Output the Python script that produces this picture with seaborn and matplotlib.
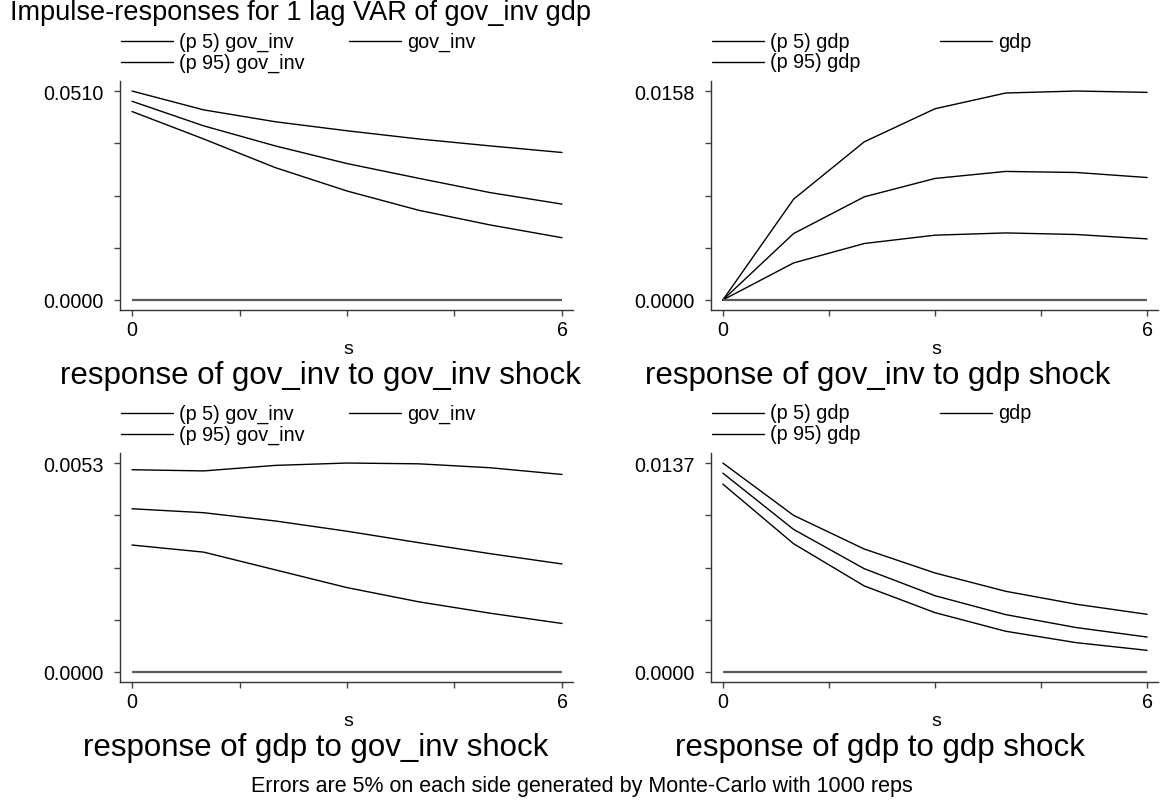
import numpy as np
import pandas as pd
import matplotlib
matplotlib.use("Agg")
import matplotlib.pyplot as plt
import seaborn as sns
from matplotlib.lines import Line2D

# Forecast steps
steps = [0, 1, 2, 3, 4, 5, 6]

# response of gov_inv to gov_inv shock
gi_gi_p5 = [0.0460, 0.0393, 0.0323, 0.0266, 0.0219, 0.0183, 0.0152]
gi_gi_mid = [0.0485, 0.0425, 0.0376, 0.0333, 0.0297, 0.0262, 0.0234]
gi_gi_p95 = [0.0510, 0.0464, 0.0435, 0.0413, 0.0393, 0.0376, 0.0360]

# response of gov_inv to gdp shock
gi_gdp_p5 = [0.0, 0.00280, 0.00427, 0.00490, 0.00507, 0.00495, 0.00462]
gi_gdp_mid = [0.0, 0.00502, 0.00780, 0.00919, 0.00972, 0.00964, 0.00926]
gi_gdp_p95 = [0.0, 0.00762, 0.01196, 0.01446, 0.01565, 0.01580, 0.01570]

# response of gdp to gov_inv shock
gdp_gi_p5 = [0.00322, 0.00304, 0.00259, 0.00214, 0.00178, 0.00149, 0.00123]
gdp_gi_mid = [0.00414, 0.00404, 0.00383, 0.00357, 0.00328, 0.00300, 0.00274]
gdp_gi_p95 = [0.00513, 0.00510, 0.00524, 0.00530, 0.00528, 0.00518, 0.00501]

# response of gdp to gdp shock
gdp_gdp_p5 = [0.01232, 0.00841, 0.00564, 0.00389, 0.00267, 0.00192, 0.00142]
gdp_gdp_mid = [0.01304, 0.00935, 0.00677, 0.00500, 0.00376, 0.00291, 0.00229]
gdp_gdp_p95 = [0.01370, 0.01027, 0.00806, 0.00649, 0.00529, 0.00444, 0.00378]

panels = [
    ("response of gov_inv to gov_inv shock", "gov_inv", gi_gi_p5, gi_gi_mid, gi_gi_p95, 0.0510),
    ("response of gov_inv to gdp shock", "gdp", gi_gdp_p5, gi_gdp_mid, gi_gdp_p95, 0.0158),
    ("response of gdp to gov_inv shock", "gov_inv", gdp_gi_p5, gdp_gi_mid, gdp_gi_p95, 0.0053),
    ("response of gdp to gdp shock", "gdp", gdp_gdp_p5, gdp_gdp_mid, gdp_gdp_p95, 0.0137),
]

sns.set_style("white")
plt.rcParams["font.family"] = ["Liberation Sans", "DejaVu Sans"]
plt.rcParams["text.color"] = "black"
plt.rcParams["xtick.color"] = "#444444"
plt.rcParams["ytick.color"] = "#444444"
plt.rcParams["xtick.labelcolor"] = "black"
plt.rcParams["ytick.labelcolor"] = "black"

W, H = 1165, 803
fig = plt.figure(figsize=(W / 100, H / 100), dpi=100)


def fx(px):
    return px / W


def fy(py):
    return 1 - py / H


# axes boxes in pixels: left, top, right, bottom
boxes = [(120, 82, 573, 311), (711, 82, 1158, 311),
         (120, 454, 573, 683), (711, 454, 1158, 683)]
sub_x = [320, 878, 316, 880]

for (title, var, p5, mid, p95, ymax), (l, t, r, b), sx in zip(panels, boxes, sub_x):
    ax = fig.add_axes([fx(l), fy(b), fx(r - l), (b - t) / H])
    df = pd.DataFrame({"s": steps * 3,
                       "value": p5 + mid + p95,
                       "series": ["p5"] * 7 + ["mid"] * 7 + ["p95"] * 7})
    sns.lineplot(data=df, x="s", y="value", units="series", estimator=None,
                 color="black", linewidth=1.0, ax=ax, legend=False)
    ax.hlines(0, steps[0], steps[-1], color="#5a5a5a", linewidth=1.6)

    per_step = 430 / 6
    ax.set_xlim(steps[0] - 12 / per_step, steps[-1] + 11 / per_step)
    ax.set_ylim(-0.048 * ymax, 1.048 * ymax)
    ax.set_xticks(np.linspace(steps[0], steps[-1], 5))
    ax.set_xticklabels(["0", "", "", "", "6"])
    ax.set_yticks(np.linspace(0, ymax, 5))
    ax.set_yticklabels(["0.0000", "", "", "", f"{ymax:.4f}"])
    ax.tick_params(axis="both", direction="out", length=4.5, width=1,
                   labelsize=14.2, bottom=True, left=True)
    ax.tick_params(axis="y", pad=7.5)
    ax.tick_params(axis="x", pad=2.5)
    sns.despine(ax=ax)
    for side in ["left", "bottom"]:
        ax.spines[side].set_color("#333333")
        ax.spines[side].set_linewidth(1.0)
    ax.set_xlabel("")
    ax.set_ylabel("")
    fig.text(fx((l + r) / 2 + 2), fy(b + 39), "s", ha="center", va="center",
             fontsize=14)

    # panel subtitle under the axes
    fig.text(fx(sx), fy(b + 65), title, ha="center", va="center", fontsize=22.5)

    # legend above the axes, laid out in rows like Stata
    labels = [f"(p 5) {var}", var, f"(p 95) {var}"]
    spots = [(l + 1, t - 40), (l + 229, t - 40), (l + 1, t - 19)]
    for lab, (lx, ly) in zip(labels, spots):
        fig.add_artist(Line2D([fx(lx), fx(lx + 52)], [fy(ly), fy(ly)],
                              color="black", linewidth=1.0))
        fig.text(fx(lx + 58), fy(ly), lab, ha="left", va="center", fontsize=14.2)

fig.text(fx(10), fy(13), "Impulse-responses for 1 lag VAR of gov_inv gdp",
         ha="left", va="center", fontsize=19.5)
fig.text(fx(582), fy(787),
         "Errors are 5% on each side generated by Monte-Carlo with 1000 reps",
         ha="center", va="center", fontsize=15.5)

fig.savefig("out.png", dpi=100)
